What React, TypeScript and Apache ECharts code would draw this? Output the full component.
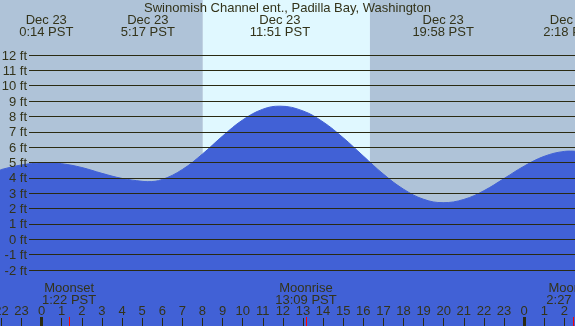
import React, { useEffect, useRef } from "react";
import * as echarts from "echarts";

const titleText = "Swinomish Channel ent., Padilla Bay, Washington";

// hours relative to Dec 23 00:00 PST
const tideHours = [-2.07, -2, -1, 0, 0.23, 1, 2, 3, 4, 5, 5.28, 6, 7, 8, 9, 10, 11, 11.85, 13, 14, 15, 16, 17, 18, 19, 19.97, 21, 22, 23, 24, 25, 26, 26.3, 26.53];
const tideFeet = [4.5, 4.55, 4.85, 4.99, 5.0, 4.93, 4.68, 4.3, 3.97, 3.78, 3.76, 3.9, 4.55, 5.56, 6.73, 7.78, 8.48, 8.68, 8.37, 7.65, 6.62, 5.43, 4.25, 3.27, 2.61, 2.39, 2.6, 3.17, 3.96, 4.77, 5.41, 5.73, 5.75, 5.74];

const extremeHours = [0.23, 5.28, 11.85, 19.97, 26.3];
const extremeLabels = ["Dec 23\n0:14 PST", "Dec 23\n5:17 PST", "Dec 23\n11:51 PST", "Dec 23\n19:58 PST", "Dec 24\n2:18 PST"];

const moonHours = [1.367, 13.15, 26.45];
const moonLabels = ["Moonset\n1:22 PST", "Moonrise\n13:09 PST", "Moonset\n2:27 PST"];

const hourTicks = [-2, -1, 0, 1, 2, 3, 4, 5, 6, 7, 8, 9, 10, 11, 12, 13, 14, 15, 16, 17, 18, 19, 20, 21, 22, 23, 24, 25, 26];
const midnightTicks = [0, 24];

const sunrise = 8.02;
const sunset = 16.33;

const xMin = -2.07;
const xMax = 26.53;
const yMin = -5.65;
const yMax = 15.6;

const TEXT = "#33331a";
const LINE = "#2a2a12";
const NIGHT = "#afc3d8";
const DAY = "#e0f8ff";
const WATER = "#4161d6";
const FONT = "'Liberation Sans', Arial, sans-serif";

function lookup(keys: number[], labels: string[], v: number): string {
  for (let i = 0; i < keys.length; i++) {
    if (Math.abs(keys[i] - v) < 1e-6) return labels[i];
  }
  return "";
}

export default function App() {
  const ref = useRef<HTMLDivElement>(null);
  useEffect(() => {
    if (!ref.current) return;
    const chart = echarts.init(ref.current, undefined, { renderer: "svg" });
    const baseX = {
      type: "value", min: xMin, max: xMax, gridIndex: 0,
      splitLine: { show: false },
      axisLine: { show: false, onZero: false },
      z: 10,
    };
    chart.setOption({
      animation: false,
      title: {
        text: titleText,
        left: "center",
        top: 0,
        padding: [0, 0, 0, 0],
        textStyle: { fontSize: 13, fontWeight: "normal", color: TEXT, fontFamily: FONT, lineHeight: 14 },
      },
      grid: [
        { left: 0, right: 0, top: 0, bottom: 0, outerBoundsMode: "none", containLabel: false },
        { left: 29, right: 0, top: 55, height: 215, outerBoundsMode: "none", containLabel: false },
      ],
      xAxis: [
        {
          ...baseX,
          position: "bottom",
          axisTick: { show: true, inside: true, length: 8, customValues: hourTicks, lineStyle: { color: LINE, width: 1 } },
          axisLabel: {
            show: true, inside: true, margin: 9, customValues: hourTicks,
            color: TEXT, fontSize: 13, fontFamily: FONT,
            formatter: (v: number) => String(((Math.round(v) % 24) + 24) % 24),
          },
        },
        {
          ...baseX,
          position: "top",
          axisTick: { show: false },
          axisLabel: {
            show: true, inside: true, margin: 13, customValues: extremeHours,
            color: TEXT, fontSize: 13, fontFamily: FONT, lineHeight: 12,
            formatter: (v: number) => lookup(extremeHours, extremeLabels, v),
          },
        },
        {
          ...baseX,
          position: "bottom",
          axisTick: { show: true, inside: true, length: 9, customValues: moonHours, lineStyle: { color: "#ff0000", width: 1 } },
          axisLabel: {
            show: true, inside: true, margin: 21, customValues: moonHours,
            color: TEXT, fontSize: 13, fontFamily: FONT, lineHeight: 12,
            formatter: (v: number) => lookup(moonHours, moonLabels, v),
          },
        },
        {
          ...baseX,
          position: "bottom",
          axisTick: { show: true, inside: true, length: 9, customValues: midnightTicks, lineStyle: { color: LINE, width: 3 } },
          axisLabel: { show: false },
        },
        { type: "value", gridIndex: 1, min: xMin, max: xMax, show: false },
      ],
      yAxis: [
        { type: "value", gridIndex: 0, min: yMin, max: yMax, show: false },
        {
          type: "value", gridIndex: 1, min: -2, max: 12, interval: 1, z: 10,
          axisLine: { show: false }, axisTick: { show: false },
          axisLabel: { color: TEXT, fontSize: 13, fontFamily: FONT, margin: 2, formatter: "{value} ft" },
          splitLine: { show: true, lineStyle: { color: LINE, width: 1 } },
        },
      ],
      series: [
        {
          type: "line",
          xAxisIndex: 0,
          yAxisIndex: 0,
          z: 1,
          data: tideHours.map((h, i) => [h, tideFeet[i]]),
          lineStyle: { opacity: 0 },
          showSymbol: false,
          symbol: "none",
          silent: true,
          markArea: {
            silent: true,
            z: 1,
            data: [
              [{ xAxis: xMin, itemStyle: { color: NIGHT, opacity: 1 } }, { xAxis: sunrise }],
              [{ xAxis: sunrise, itemStyle: { color: DAY, opacity: 1 } }, { xAxis: sunset }],
              [{ xAxis: sunset, itemStyle: { color: NIGHT, opacity: 1 } }, { xAxis: xMax }],
            ],
          },
        },
        {
          type: "line",
          xAxisIndex: 0,
          yAxisIndex: 0,
          z: 2,
          smooth: 0.4,
          symbol: "none",
          data: tideHours.map((h, i) => [h, tideFeet[i]]),
          lineStyle: { color: WATER, width: 1 },
          areaStyle: { color: WATER, opacity: 1, origin: "start" },
        },
      ],
    });
    return () => chart.dispose();
  }, []);
  return <div ref={ref} style={{ position: "fixed", left: 0, top: 0, width: 575, height: 326 }} />;
}
